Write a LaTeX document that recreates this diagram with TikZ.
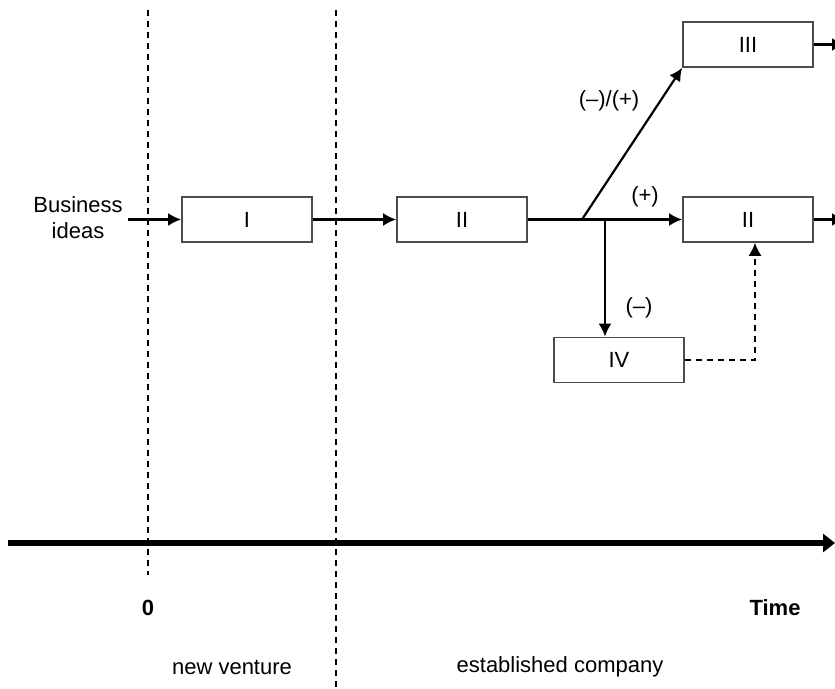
\documentclass[tikz,border=0pt]{standalone}
\usepackage{fontspec}
\setmainfont{Liberation Sans}
\usetikzlibrary{arrows.meta,positioning,calc}
\tikzset{
  stagebox/.style={draw=black!70, line width=0.85pt, minimum width=65pt, minimum height=22.5pt, inner sep=0pt, font=\fontsize{11}{13}\selectfont},
  flowarrow/.style={-{Latex[length=6.5pt,width=6.5pt]}, line width=1.1pt},
  flowline/.style={line width=1.1pt},
  dasharrow/.style={-{Latex[length=6.5pt,width=6.5pt]}, line width=0.8pt, dash pattern=on 3pt off 2.5pt},
  divider/.style={line width=0.6pt, dash pattern=on 3pt off 2.5pt},
  timearrow/.style={-{Triangle[length=6pt,width=9pt]}, line width=3pt},
  labeltxt/.style={font=\fontsize{11}{13}\selectfont, align=center, inner sep=0pt},
}
\begin{document}
\begin{tikzpicture}[x=0.5pt,y=-0.5pt]
\path[use as bounding box] (0,0) rectangle (835,689);

% phase dividers
\draw[divider] (148,10) -- (148,575);
\draw[divider] (336,10) -- (336,689);

% time axis
\coordinate (tstart) at (8,543);
\coordinate (tend) at (835,543);
\draw[timearrow] (tstart) -- (tend);
\node[labeltxt,font=\fontsize{11}{13}\selectfont\bfseries] (zero) at (148,608) {0};
\node[labeltxt,font=\fontsize{11}{13}\selectfont\bfseries] (time) at (775,608) {Time};
\node[labeltxt] (venture) at (232,667) {new venture};
\node[labeltxt] (company) at (560,667) {established company};

% stages
\node[labeltxt] (ideas) at (78,218) {Business\\ideas};
\node[stagebox] (boxI) at (247,219.5) {I};
\node[stagebox] (boxII) at (462,219.5) {II};
\node[stagebox] (boxIII) at (748,44.5) {III};
\node[stagebox] (boxIIb) at (748,219.5) {II};
\node[stagebox] (boxIV) at (619,360) {IV};

% flow
\coordinate (ideasout) at (128,219.5);
\coordinate (split) at (582,219.5);
\coordinate (fork) at (605,219.5);
\coordinate (bend) at (755,360);
\coordinate (outIII) at (845,44.5);
\coordinate (outII) at (845,219.5);
\draw[flowarrow] (ideasout) -- (boxI.west);
\draw[flowarrow] (boxI.east) -- (boxII.west);
\draw[flowline] (boxII.east) -- (split);
\draw[flowarrow] (split) -- (boxIIb.west);
\draw[flowarrow] (split) -- (boxIII.south west);
\draw[flowarrow] (fork) -- (fork |- boxIV.north);
\draw[dasharrow] (boxIV.east) -- (bend) -- (bend |- boxIIb.south);
\draw[flowarrow] (boxIII.east) -- (outIII);
\draw[flowarrow] (boxIIb.east) -- (outII);

% branch labels
\node[labeltxt] (mixed) at (609,101) {(--)/(+)};
\node[labeltxt] (plus) at (645,197) {(+)};
\node[labeltxt] (minus) at (639,308) {(--)};
\end{tikzpicture}
\end{document}
